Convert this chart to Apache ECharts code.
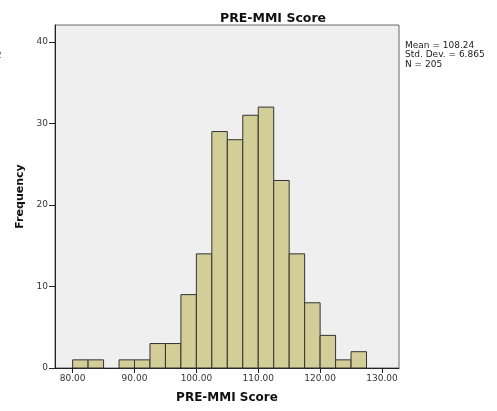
<!DOCTYPE html>
<html><head><meta charset="utf-8">
<script src="https://cdn.jsdelivr.net/npm/echarts@6/dist/echarts.min.js"></script>
<style>html,body{margin:0;padding:0;background:#fff}#c{width:497px;height:411px}</style>
</head><body><div id="c"></div>
<script>
// Histogram bins (lower edge, upper edge) and frequencies
const binStarts = [80, 82.5, 85, 87.5, 90, 92.5, 95, 97.5, 100, 102.5, 105, 107.5, 110, 112.5, 115, 117.5, 120, 122.5, 125];
const binWidth = 2.5;
const frequencies = [1, 1, 0, 1, 1, 3, 3, 9, 14, 29, 28, 31, 32, 23, 14, 8, 4, 1, 2];
const xTicks = [80, 90, 100, 110, 120, 130];
const yTicks = [0, 10, 20, 30, 40];
const statsLines = ['Mean = 108.24', 'Std. Dev. = 6.865', 'N = 205'];

const data = binStarts.map((s, i) => [s, s + binWidth, frequencies[i]]).filter(d => d[2] > 0);

const chart = echarts.init(document.getElementById('c'), null, {renderer: 'canvas'});
const font = 'DejaVu Sans';
chart.setOption({
  animation: false,
  title: {
    text: 'PRE-MMI Score', left: 268, top: 7, textAlign: 'center',
    textStyle: {fontFamily: font, fontWeight: 'bold', fontSize: 12.5, color: '#111'}
  },
  grid: {left: 55, top: 25, right: 98, bottom: 43, show: true,
    backgroundColor: '#EFEFEF', borderColor: '#666', borderWidth: 1},
  xAxis: {
    type: 'value', min: 77.15, max: 132.75,
    name: 'PRE-MMI Score', nameLocation: 'middle', nameGap: 24,
    nameTextStyle: {fontFamily: font, fontWeight: 'bold', fontSize: 12, color: '#111'},
    axisLine: {show: true, lineStyle: {color: '#222', width: 1}},
    axisTick: {show: true, inside: false, length: 5, lineStyle: {color: '#222'}, customValues: xTicks},
    axisLabel: {customValues: xTicks, formatter: v => v.toFixed(2), fontFamily: font, fontSize: 9, color: '#333', margin: 6},
    splitLine: {show: false}
  },
  yAxis: {
    type: 'value', min: 0, max: 42.07,
    name: 'Frequency', nameLocation: 'middle', nameGap: 19,
    nameTextStyle: {fontFamily: font, fontWeight: 'bold', fontSize: 11, color: '#111'},
    axisLine: {show: true, lineStyle: {color: '#222', width: 1}},
    axisTick: {show: true, inside: false, length: 6, lineStyle: {color: '#222'}, customValues: yTicks},
    axisLabel: {customValues: yTicks, fontFamily: font, fontSize: 9, color: '#333', margin: 7},
    splitLine: {show: false}
  },
  graphic: [
    {type: 'text', left: 405, top: 41, style: {text: statsLines.join('\n'), fontFamily: font, fontSize: 9, lineHeight: 9.4, fill: '#222'}},
    {type: 'text', left: -4, top: 51, style: {text: '2', fontFamily: font, fontSize: 9, fill: '#444'}}
  ],
  series: [{
    type: 'custom',
    data: data,
    encode: {x: [0, 1], y: 2},
    renderItem: function (params, api) {
      const p0 = api.coord([api.value(0), api.value(2)]);
      const p1 = api.coord([api.value(1), 0]);
      return {
        type: 'rect',
        shape: {x: p0[0], y: p0[1], width: p1[0] - p0[0], height: p1[1] - p0[1]},
        style: {fill: '#D3CE97', stroke: '#333', lineWidth: 1}
      };
    }
  }]
});
</script></body></html>
